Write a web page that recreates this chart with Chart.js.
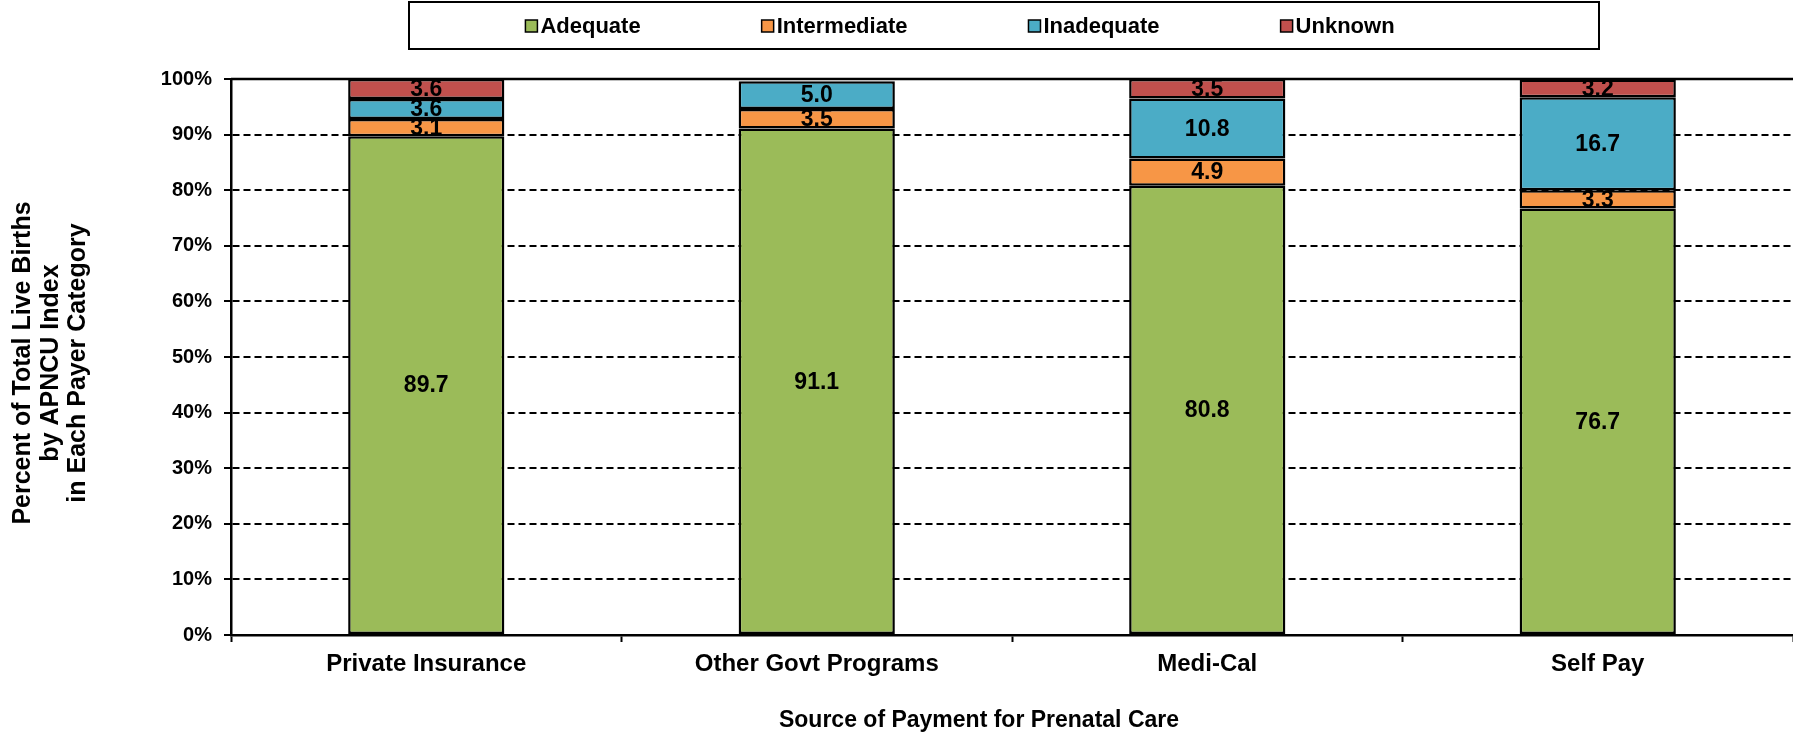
<!DOCTYPE html>
<html><head><meta charset="utf-8">
<script src="https://cdn.jsdelivr.net/npm/chart.js@4"></script>
<style>html,body{margin:0;padding:0;background:#fff}#wrap{width:1793px;height:742px}</style>
</head><body><div id="wrap"><canvas id="c" width="1793" height="742"></canvas></div>
<script>
const categories = ['Private Insurance', 'Other Govt Programs', 'Medi-Cal', 'Self Pay'];
const seriesNames = ['Adequate', 'Intermediate', 'Inadequate', 'Unknown'];
const adequate = [89.7, 91.1, 80.8, 76.7];
const intermediate = [3.1, 3.5, 4.9, 3.3];
const inadequate = [3.6, 5.0, 10.8, 16.7];
const unknown = [3.6, null, 3.5, 3.2];
const yTicks = [0, 10, 20, 30, 40, 50, 60, 70, 80, 90, 100];
const seriesColors = ['#9BBB59', '#F79646', '#4BACC6', '#C0504D'];
const xTitle = 'Source of Payment for Prenatal Care';
const yTitleLines = ['Percent of Total Live Births', 'by APNCU Index', 'in Each Payer Category'];

const FONT = "'Liberation Sans', Arial, sans-serif";
const seriesValues = [adequate, intermediate, inadequate, unknown];

const datasets = seriesNames.map((name, i) => ({
  label: name,
  data: seriesValues[i],
  backgroundColor: seriesColors[i],
  borderColor: '#000',
  borderWidth: 2.5,
  borderSkipped: false,
  barPercentage: 0.4,
  categoryPercentage: 1.0
}));

const labelsPlugin = {
  id: 'segLabels',
  afterDatasetsDraw(chart) {
    const ctx = chart.ctx;
    ctx.save();
    ctx.font = 'bold 23px ' + FONT;
    ctx.fillStyle = '#000';
    ctx.textAlign = 'center';
    ctx.textBaseline = 'middle';
    chart.data.datasets.forEach((ds, di) => {
      const meta = chart.getDatasetMeta(di);
      meta.data.forEach((el, i) => {
        const v = ds.data[i];
        if (v === null || v === undefined) return;
        ctx.fillText(v.toFixed(1), el.x, (el.y + el.base) / 2 + 1);
      });
    });
    ctx.restore();
  }
};

const frame = {
  id: 'frame',
  beforeDatasetsDraw(chart) {
    const ctx = chart.ctx, a = chart.chartArea;
    const y = chart.scales.y.getPixelForValue(100);
    ctx.save();
    ctx.strokeStyle = '#000';
    ctx.lineWidth = 2.5;
    ctx.beginPath();
    ctx.moveTo(a.left, y);
    ctx.lineTo(a.right, y);
    ctx.stroke();
    ctx.restore();
  },
  afterDraw(chart) {
    const ctx = chart.ctx;
    ctx.save();
    ctx.fillStyle = '#000';
    ctx.font = 'bold 23px ' + FONT;
    ctx.textAlign = 'center';
    ctx.textBaseline = 'middle';
    ctx.fillText(xTitle, 979, 721);
    ctx.save();
    ctx.font = 'bold 25px ' + FONT;
    ctx.translate(51, 363);
    ctx.rotate(-Math.PI / 2);
    yTitleLines.forEach((t, i) => ctx.fillText(t, 0, (i - 1) * 27.5));
    ctx.restore();
    // legend
    ctx.lineWidth = 2;
    ctx.strokeStyle = '#000';
    ctx.strokeRect(409, 2, 1190, 47);
    ctx.font = 'bold 22px ' + FONT;
    ctx.textAlign = 'left';
    const box = 12, gap = 3, spacing = 121;
    const widths = chart.data.datasets.map(d => box + gap + ctx.measureText(d.label).width);
    const total = widths.reduce((s, w) => s + w, 0) + spacing * (widths.length - 1);
    let x = 960 - total / 2;
    const cy = 26;
    chart.data.datasets.forEach((d, i) => {
      ctx.fillStyle = d.backgroundColor;
      ctx.fillRect(x, cy - box / 2, box, box);
      ctx.lineWidth = 1.5;
      ctx.strokeRect(x, cy - box / 2, box, box);
      ctx.fillStyle = '#000';
      ctx.fillText(d.label, x + box + gap, cy + 1);
      x += widths[i] + spacing;
    });
    ctx.restore();
  }
};

new Chart(document.getElementById('c'), {
  type: 'bar',
  data: { labels: categories, datasets },
  options: {
    responsive: false,
    devicePixelRatio: 1,
    animation: false,
    layout: { padding: { top: 79, left: 0, right: 0, bottom: 0 } },
    plugins: { legend: { display: false }, tooltip: { enabled: false } },
    scales: {
      x: {
        stacked: true,
        grid: { offset: true, drawOnChartArea: false, drawTicks: true, tickLength: 7, tickColor: '#000', tickWidth: 2 },
        border: { display: true, color: '#000', width: 2.5 },
        ticks: { color: '#000', font: { family: FONT, size: 24, weight: 'bold' }, padding: 8, maxRotation: 0, autoSkip: false },
        afterFit(s) { s.height = 107; }
      },
      y: {
        stacked: true,
        min: 0, max: 100,
        afterBuildTicks(s) { s.ticks = yTicks.map(v => ({ value: v })); },
        grid: { color: '#000', lineWidth: 2, tickLength: 7, tickColor: '#000', tickWidth: 2, tickBorderDash: [] },
        border: { display: true, color: '#000', width: 2.5, dash: [7, 4] },
        ticks: { color: '#000', font: { family: FONT, size: 20, weight: 'bold' }, padding: 12, callback: v => v + '%' },
        afterFit(s) { s.width = 231; }
      }
    }
  },
  plugins: [labelsPlugin, frame]
});
</script></body></html>
